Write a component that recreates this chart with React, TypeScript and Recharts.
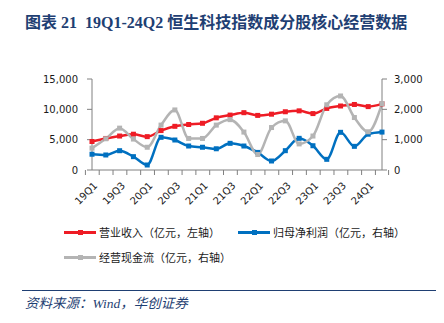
import React from 'react';
import { LineChart, Line, XAxis, YAxis } from 'recharts';

const quarters = [
  '19Q1', '19Q2', '19Q3', '19Q4', '20Q1', '20Q2', '20Q3', '20Q4',
  '21Q1', '21Q2', '21Q3', '21Q4', '22Q1', '22Q2', '22Q3', '22Q4',
  '23Q1', '23Q2', '23Q3', '23Q4', '24Q1', '24Q2',
];
// 营业收入（亿元，左轴）
const revenue = [
  4700, 5200, 5600, 5900, 5500, 6500, 7200, 7500, 7700, 8600, 9050,
  9450, 9000, 9200, 9600, 9750, 9300, 10150, 10550, 10800, 10450, 10900,
];
// 归母净利润（亿元，右轴）
const netProfit = [
  520, 495, 636, 440, 165, 1077, 989, 791, 750, 700, 879,
  791, 580, 297, 637, 1044, 800, 352, 1242, 780, 1180, 1250,
];
// 经营现金流（亿元，右轴）
const cashFlow = [
  720, 1030, 1380, 1020, 750, 1480, 1980, 1040, 1040, 1480, 1660,
  1250, 510, 1400, 1620, 860, 1120, 2150, 2440, 1730, 1260, 2190,
];
const leftTicks = [0, 5000, 10000, 15000];
const rightTicks = [0, 1000, 2000, 3000];

const data = quarters.map((q, i) => ({
  q,
  revenue: revenue[i],
  netProfit: netProfit[i],
  cashFlow: cashFlow[i],
}));

const RED = '#EE1C25';
const BLUE = '#0070C0';
const GRAY = '#B4B4B4';
const AXIS = '#808080';
const NAVY = '#1F3F73';

const PLOT_LEFT = 92;
const PLOT_RIGHT = 382;
const BW = (PLOT_RIGHT - PLOT_LEFT) / quarters.length;

const fmt = (v: number) => v.toLocaleString('en-US');

const squareDot = (color: string) => (props: any) => {
  const { cx, cy, index } = props;
  return <rect key={`d${index}`} x={cx - 2.5} y={cy - 2.5} width={5} height={5} fill={color} />;
};

const XTick = (props: any) => {
  const { x, y, payload, index } = props;
  const last = index === quarters.length - 1;
  return (
    <g>
      <line x1={x - BW / 2} y1={y} x2={x - BW / 2} y2={y + 5} stroke={AXIS} />
      {last && <line x1={x + BW / 2} y1={y} x2={x + BW / 2} y2={y + 5} stroke={AXIS} />}
      {index % 2 === 0 && (
        <text
          x={0}
          y={0}
          transform={`translate(${x + 4},${y + 14}) rotate(-45)`}
          textAnchor="end"
          dominantBaseline="middle"
          fontSize={10}
          fontFamily="DejaVu Sans"
          fill="#1a1a1a"
        >
          {payload.value}
        </text>
      )}
    </g>
  );
};

const LegendItem = ({ color, label, left, top }: { color: string; label: string; left: number; top: number }) => (
  <div style={{ position: 'absolute', left, top, display: 'flex', alignItems: 'center', height: 14 }}>
    <div style={{ position: 'relative', width: 32, height: 14, marginRight: 3 }}>
      <div style={{ position: 'absolute', left: 0, top: 6, width: 32, height: 2.5, background: color }} />
      <div style={{ position: 'absolute', left: 13.5, top: 4.5, width: 5, height: 5, background: color }} />
    </div>
    <span style={{ fontSize: 11, color: '#1a1a1a', whiteSpace: 'nowrap' }}>{label}</span>
  </div>
);

export default function App() {
  return (
    <div
      style={{
        position: 'absolute', left: 0, top: 0, width: 444, height: 323,
        background: '#fff', overflow: 'hidden',
        fontFamily: '"Noto Sans CJK SC", "DejaVu Sans", sans-serif',
      }}
    >
      <div
        style={{
          position: 'absolute', left: 25, top: 9, fontSize: 16, fontWeight: 700,
          color: NAVY, whiteSpace: 'nowrap',
          fontFamily: '"Liberation Serif", "Noto Sans CJK SC", serif',
        }}
      >
        图表 21&nbsp;&nbsp;19Q1-24Q2 恒生科技指数成分股核心经营数据
      </div>

      <div style={{ position: 'absolute', left: 0, top: 0 }}>
        <LineChart width={444} height={220} data={data} margin={{ top: 79, right: 0, bottom: 0, left: 0 }}>
          <XAxis
            dataKey="q"
            interval={0}
            height={50}
            tickSize={0}
            tickMargin={0}
            tickLine={false}
            axisLine={{ stroke: AXIS }}
            tick={<XTick />}
          />
          <YAxis
            yAxisId="left"
            domain={[0, 15000]}
            ticks={leftTicks}
            width={92}
            tickSize={5}
            tickMargin={9}
            tickFormatter={fmt}
            tick={{ fontSize: 10, fill: '#1a1a1a', fontFamily: 'DejaVu Sans' }}
            axisLine={{ stroke: AXIS }}
            tickLine={{ stroke: AXIS }}
          />
          <YAxis
            yAxisId="right"
            orientation="right"
            domain={[0, 3000]}
            ticks={rightTicks}
            width={62}
            tickSize={5}
            tickMargin={7}
            tickFormatter={fmt}
            tick={{ fontSize: 10, fill: '#1a1a1a', fontFamily: 'DejaVu Sans' }}
            axisLine={{ stroke: AXIS }}
            tickLine={{ stroke: AXIS }}
          />
          <Line
            yAxisId="left"
            type="monotone"
            dataKey="revenue"
            stroke={RED}
            strokeWidth={2.5}
            dot={squareDot(RED)}
            isAnimationActive={false}
          />
          <Line
            yAxisId="right"
            type="monotone"
            dataKey="netProfit"
            stroke={BLUE}
            strokeWidth={2.5}
            dot={squareDot(BLUE)}
            isAnimationActive={false}
          />
          <Line
            yAxisId="right"
            type="monotone"
            dataKey="cashFlow"
            stroke={GRAY}
            strokeWidth={2.5}
            dot={squareDot(GRAY)}
            isAnimationActive={false}
          />
        </LineChart>
      </div>

      <LegendItem color={RED} label="营业收入（亿元，左轴）" left={64} top={225} />
      <LegendItem color={BLUE} label="归母净利润（亿元，右轴）" left={238} top={225} />
      <LegendItem color={GRAY} label="经营现金流（亿元，右轴）" left={64} top={250} />

      <div style={{ position: 'absolute', left: 22, top: 289.5, width: 414, height: 1.5, background: NAVY }} />
      <div
        style={{
          position: 'absolute', left: 25, top: 292, fontSize: 13.5, fontStyle: 'italic',
          color: NAVY, whiteSpace: 'nowrap',
          fontFamily: '"Liberation Serif", "Noto Sans CJK SC", serif',
        }}
      >
        资料来源：Wind，华创证券
      </div>
    </div>
  );
}
